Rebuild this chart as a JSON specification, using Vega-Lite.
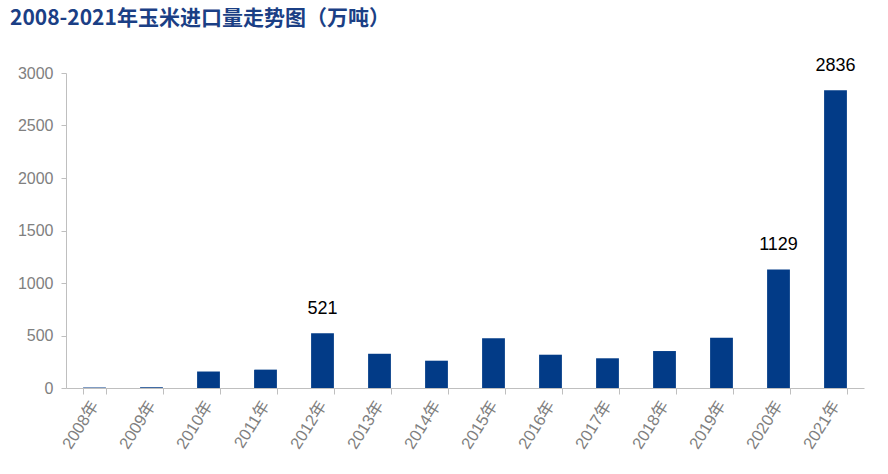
{
  "$schema": "https://vega.github.io/schema/vega-lite/v6.json",
  "width": 798,
  "height": 315,
  "autosize": "none",
  "padding": {"left": 66, "top": 73, "right": 24, "bottom": 86},
  "background": "white",
  "title": {
    "text": "2008-2021年玉米进口量走势图（万吨）",
    "anchor": "start",
    "frame": "group",
    "dx": -56,
    "offset": 28,
    "font": "Noto Sans CJK SC",
    "fontSize": 21,
    "fontWeight": "bold",
    "color": "#1B3F85"
  },
  "data": {
    "values": [
      {"year": "2008年", "v": 5},
      {"year": "2009年", "v": 8},
      {"year": "2010年", "v": 157},
      {"year": "2011年", "v": 175},
      {"year": "2012年", "v": 521, "lab": "521"},
      {"year": "2013年", "v": 326},
      {"year": "2014年", "v": 260},
      {"year": "2015年", "v": 473},
      {"year": "2016年", "v": 317},
      {"year": "2017年", "v": 283},
      {"year": "2018年", "v": 352},
      {"year": "2019年", "v": 479},
      {"year": "2020年", "v": 1129, "lab": "1129"},
      {"year": "2021年", "v": 2836, "lab": "2836"}
    ]
  },
  "encoding": {
    "x": {
      "field": "year",
      "type": "nominal",
      "sort": null,
      "scale": {"paddingInner": 0.6, "paddingOuter": 0.3},
      "axis": {
        "title": null,
        "labelAngle": -58,
        "labelFont": "Liberation Sans, Noto Sans CJK SC",
        "labelFontSize": 16.5,
        "labelColor": "#808080",
        "labelPadding": 8,
        "tickBand": "extent",
        "tickSize": 6,
        "tickColor": "#BFBFBF",
        "domainColor": "#BFBFBF",
        "grid": false
      }
    },
    "y": {
      "field": "v",
      "type": "quantitative",
      "scale": {"domain": [0, 3000], "nice": false},
      "axis": {
        "title": null,
        "values": [0, 500, 1000, 1500, 2000, 2500, 3000],
        "format": "d",
        "labelFont": "Liberation Sans",
        "labelFontSize": 16,
        "labelColor": "#808080",
        "labelPadding": 8,
        "tickSize": 5,
        "tickColor": "#BFBFBF",
        "domainColor": "#BFBFBF",
        "grid": false
      }
    }
  },
  "layer": [
    {"mark": {"type": "bar", "color": "#023B87"}},
    {
      "transform": [{"filter": "isValid(datum.lab)"}],
      "mark": {"type": "text", "dy": -24, "fontSize": 18, "font": "Liberation Sans", "color": "#000000"},
      "encoding": {"text": {"field": "lab"}}
    }
  ],
  "config": {"view": {"stroke": null}}
}
